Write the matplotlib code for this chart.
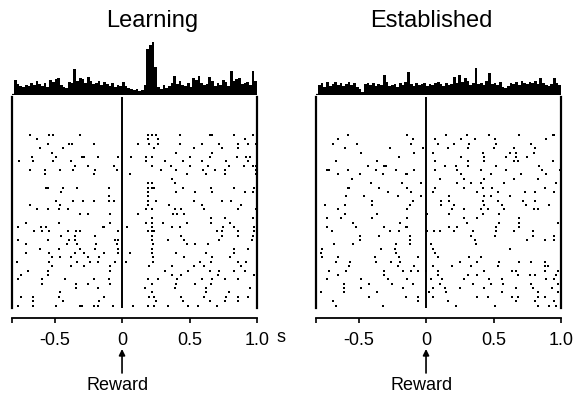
import numpy as np
import matplotlib
matplotlib.use("Agg")
import matplotlib.pyplot as plt

plt.rcParams["font.family"] = ["Liberation Sans", "DejaVu Sans"]

# ---------------------------------------------------------------- data
titles = ["Learning", "Established"]
bin_width = 0.02
t_start, t_end = -0.8, 1.0
tick_values = [-0.5, 0.0, 0.5, 1.0]
tick_labels = ["-0.5", "0", "0.5", "1.0"]
event_label = "Reward"

# peri-event histograms (spike counts per 20 ms bin)
learning_psth = [
    15, 11, 9, 8, 10, 9, 12, 10, 14, 11,
    9, 12, 8, 15, 13, 16, 17, 10, 8, 7,
    13, 12, 26, 14, 17, 16, 12, 18, 14, 11,
    12, 14, 10, 13, 11, 9, 12, 8, 10, 9,
    13, 9, 7, 6, 5, 6, 4, 5, 10, 46,
    50, 53, 28, 8, 6, 10, 7, 9, 12, 19,
    11, 14, 10, 9, 12, 8, 17, 15, 19, 12,
    10, 11, 18, 14, 9, 12, 10, 15, 13, 9,
    24, 14, 16, 17, 11, 12, 13, 10, 24, 14,
]
established_psth = [
    10, 12, 8, 13, 9, 11, 13, 10, 12, 9,
    11, 13, 10, 12, 8, 6, 3, 11, 12, 10,
    12, 9, 11, 10, 20, 13, 9, 10, 11, 8,
    12, 10, 13, 23, 11, 9, 12, 10, 11, 12,
    9, 11, 10, 12, 13, 11, 9, 12, 10, 11,
    18, 12, 20, 13, 17, 14, 10, 12, 27, 11,
    12, 10, 14, 22, 11, 12, 10, 13, 8, 7,
    9, 12, 11, 13, 10, 14, 12, 11, 13, 12,
    14, 11, 17, 12, 10, 9, 11, 17, 12, 10,
]

# spike times (s, relative to reward) for each trial, first trial on top
learning_trials = [
    [-0.68, -0.54, -0.51, -0.31, 0.19, 0.22, 0.25, 0.43, 0.65, 0.67, 0.83, 0.97],
    [-0.63, 0.19, 0.27, 0.91],
    [-0.55, -0.39, -0.37, -0.21, 0.12, 0.20, 0.27, 0.43, 0.59, 0.72, 0.86, 0.93, 0.99],
    [-0.61, -0.44, 0.24, 0.53, 0.74, 0.86],
    [-0.52, 0.40, 0.67],
    [-0.67, -0.49, -0.30, -0.28, -0.18, -0.03, 0.07, 0.18, 0.22, 0.50, 0.65, 0.85, 0.92, 0.95],
    [-0.76, -0.66, -0.51, -0.38, 0.18, 0.32, 0.45, 0.59, 0.77, 0.93],
    [-0.35, -0.25, -0.06, 0.22, 0.36, 0.50, 0.64, 0.79, 0.90, 0.97, 0.99],
    [-0.68, -0.57, -0.46, -0.36, -0.20, -0.04, 0.29, 0.40, 0.60, 0.69, 0.76, 0.99],
    [-0.57, -0.21, 0.06, 0.48, 0.62, 0.76, 0.99],
    [0.37],
    [0.19, 0.22, 0.39],
    [-0.56, -0.55, -0.44, -0.33, -0.10, 0.19, 0.22, 0.24, 0.45, 0.66, 0.83, 0.98],
    [-0.45, 0.19, 0.40, 0.54, 0.67, 0.91, 0.97],
    [-0.10, 0.19],
    [-0.49, -0.36, -0.29, -0.21, -0.10, -0.06, 0.19, 0.25, 0.53, 0.74, 0.81],
    [-0.68, -0.46, 0.19, 0.35, 0.59, 0.88],
    [-0.63, -0.55, -0.47, -0.40, 0.18, 0.22, 0.39, 0.44, 0.61, 0.86, 0.99],
    [-0.31, -0.25, -0.09, 0.12, 0.38, 0.41, 0.46],
    [0.22, 0.66, 0.76, 0.97],
    [-0.71, -0.47, -0.09, 0.18, 0.22, 0.30, 0.48, 0.66, 0.80],
    [-0.77, -0.60, -0.56, -0.14, -0.13, 0.04, 0.22, 0.37, 0.43, 0.75, 0.83, 0.98],
    [-0.65, -0.59, -0.54, -0.40, -0.34, -0.31, -0.03, 0.19, 0.22, 0.24, 0.70, 0.74, 0.86, 0.98],
    [-0.45, -0.35, -0.20, 0.22, 0.44, 0.74, 0.86, 0.97],
    [-0.77, -0.55, -0.39, -0.35, -0.05, -0.03, 0.22, 0.34, 0.46, 0.72, 0.96],
    [-0.71, -0.41, -0.33, -0.19, -0.04, 0.23, 0.48, 0.54, 0.64],
    [-0.61, -0.47, -0.31, -0.20, -0.03, 0.22, 0.83, 0.93],
    [-0.71, -0.54, -0.35, -0.28, -0.13, -0.03, 0.06, 0.22, 0.40, 0.62, 0.83],
    [-0.52, -0.46, -0.38, -0.25, -0.17, 0.23, 0.46, 0.67, 0.80],
    [-0.78, -0.54, -0.33, -0.24, -0.18, -0.05, 0.03, 0.23, 0.58, 0.66, 0.86, 0.92],
    [-0.52, -0.38, -0.28, -0.09, 0.20, 0.37, 0.53, 0.61, 0.88],
    [-0.70, -0.55, -0.09, 0.32, 0.49, 0.65, 0.72, 0.83, 0.91],
    [-0.75, -0.55, 0.37, 0.44, 0.71, 0.98],
    [-0.77, -0.59, -0.42, -0.21, -0.10, 0.19, 0.27, 0.41, 0.59, 0.67, 0.76, 0.86],
    [-0.59, -0.34, -0.25, -0.09, 0.22, 0.40, 0.54, 0.66],
    [-0.34, -0.18, 0.17, 0.39, 0.62, 0.95],
    [-0.46, 0.22, 0.62, 0.79],
    [-0.75, -0.66, -0.47, -0.13, 0.20, 0.24, 0.44, 0.61, 0.77, 0.86, 0.93],
    [-0.66, -0.44, -0.17, 0.25, 0.45, 0.65, 0.76, 0.86],
    [-0.77, -0.66, -0.49, -0.31, -0.30, -0.21, -0.18, -0.07, 0.08, 0.19, 0.24, 0.34, 0.49, 0.56, 0.70],
]
established_trials = [
    [-0.58, -0.14, 0.15, 0.30, 0.47, 0.69, 0.94, 0.95],
    [-0.65, -0.10, 0.07, 0.26, 0.36, 0.51, 0.89],
    [-0.69, -0.51, -0.11, 0.09, 0.21, 0.32, 0.52, 0.78],
    [-0.60, -0.27, -0.02, 0.16, 0.31, 0.50, 0.65, 0.81],
    [-0.48, -0.09, 0.05, 0.42, 0.62, 0.67, 0.80],
    [-0.20, 0.26, 0.43, 0.59, 0.67, 0.75],
    [-0.67, -0.36, 0.07, 0.31, 0.43, 0.65, 0.68, 0.94],
    [-0.43, -0.31, -0.30, 0.14, 0.22, 0.31, 0.52, 0.84],
    [-0.73, -0.72, -0.58, -0.37, -0.22, -0.09, 0.07, 0.23, 0.41, 0.59, 0.86, 0.99],
    [-0.65, -0.49, -0.32, -0.15, -0.14, 0.26, 0.48, 0.70, 0.89],
    [-0.55, 0.10, 0.28, 0.43, 0.65, 0.83],
    [-0.41, -0.18, -0.04, 0.23, 0.33, 0.41, 0.58, 0.96],
    [-0.58, -0.57, -0.35, -0.14, 0.07, 0.28, 0.42, 0.49, 0.88],
    [-0.28, -0.11, 0.05, 0.38, 0.53, 0.73, 0.81, 0.95],
    [-0.59, -0.46, -0.21, -0.04, 0.17, 0.43, 0.48, 0.62],
    [-0.40, -0.10, 0.11, 0.17, 0.42, 0.53, 0.72, 0.81],
    [-0.75, -0.60, -0.40, -0.12, 0.11, 0.21, 0.43, 0.56, 0.74, 0.91],
    [-0.65, -0.14, 0.19, 0.28, 0.41, 0.46, 0.58, 0.80, 0.83],
    [-0.60, -0.36, 0.01, 0.17, 0.42, 0.54],
    [-0.73, -0.63, -0.40, -0.14, 0.28, 0.38, 0.69],
    [-0.54, -0.19, 0.30, 0.54, 0.69, 0.98],
    [-0.73, -0.52, -0.31, -0.15, -0.14, 0.17, 0.23, 0.52, 0.69],
    [-0.70, -0.27, -0.20, 0.01, 0.06, 0.10, 0.21, 0.35, 0.52, 0.65, 0.79],
    [-0.49, -0.35, -0.12, 0.33, 0.51, 0.79, 0.95],
    [-0.49, -0.12, 0.36, 0.75, 0.88, 0.95],
    [-0.68, -0.54, -0.22, -0.12, 0.04, 0.37],
    [-0.77, -0.33, -0.23, 0.05, 0.62],
    [-0.78, -0.22, 0.07],
    [-0.77, -0.65, -0.38, -0.20, -0.06, 0.09, 0.32, 0.41],
    [-0.67, -0.56, -0.37, -0.26, -0.19, 0.25, 0.38, 0.54, 0.69, 0.78, 0.88],
    [-0.57, -0.21, -0.09, 0.05, 0.19, 0.33, 0.53, 0.88, 0.90],
    [-0.72, -0.59, -0.31, -0.17, -0.11, -0.06, 0.00, 0.09, 0.43, 0.64, 0.67, 0.88, 0.98],
    [-0.65, -0.31, 0.09, 0.31, 0.38, 0.68, 0.77, 0.81, 0.96],
    [-0.73, -0.48, -0.28, -0.14, 0.04, 0.12, 0.28, 0.47, 0.56, 0.89, 0.95],
    [-0.61, -0.42, -0.25, -0.10, 0.10, 0.35, 0.48, 0.57, 0.78, 0.98],
    [-0.61, -0.48, -0.17, 0.05, 0.14, 0.25, 0.43, 0.67, 0.79, 0.93],
    [-0.78, -0.61, -0.36, 0.02, 0.15, 0.56, 0.83, 0.98],
    [-0.42, -0.15, -0.06, 0.05, 0.38, 0.46, 0.64, 0.68, 0.83, 0.88],
    [-0.69, -0.06, 0.16, 0.67, 0.81, 0.95],
    [-0.67, -0.32, 0.22, 0.51, 0.83, 0.91, 0.96],
]

# ---------------------------------------------------------------- layout
W, H = 575, 395
fig = plt.figure(figsize=(W / 100, H / 100), dpi=100)


def box(left, top, right, bottom):
    """Axes rectangle given in pixels measured from the top-left corner."""
    return [left / W, 1 - bottom / H, (right - left) / W, (bottom - top) / H]


x_lo = -0.815
px_per_s = 135
panels = [
    dict(title=titles[0], psth=learning_psth, trials=learning_trials,
         left=12, title_x=152, unit="s"),
    dict(title=titles[1], psth=established_psth, trials=established_trials,
         left=316, title_x=431, unit=None),
]

edges = np.linspace(t_start, t_end, len(learning_psth) + 1)

for p in panels:
    left = p["left"]
    right = left + (t_end - x_lo) * px_per_s

    # histogram above the raster
    ah = fig.add_axes(box(left, 40, right, 95))
    ah.stairs(p["psth"], edges, fill=True, color="k", linewidth=0)
    ah.plot([x_lo, t_end], [0, 0], color="k", lw=1.6, solid_capstyle="butt")
    ah.set_xlim(x_lo, t_end)
    ah.set_ylim(0, 55)
    ah.axis("off")

    # raster
    ar = fig.add_axes(box(left, 97, right, 308))
    trials = p["trials"]
    xs = np.concatenate([np.asarray(s, float) for s in trials])
    ys = np.concatenate([np.full(len(s), k) for k, s in enumerate(trials)])
    ar.scatter(xs, ys, marker="s", s=2.8, color="k", linewidths=0)
    ar.axvline(0, color="k", lw=1.4)
    ar.set_xlim(x_lo, t_end)
    ar.set_ylim(len(trials) - 0.45, -8.7)

    ar.spines["top"].set_visible(False)
    for side in ("left", "right"):
        ar.spines[side].set_linewidth(1.6)
    ar.spines["bottom"].set_position(("outward", 7.5))
    ar.spines["bottom"].set_linewidth(1.3)
    ar.spines["bottom"].set_bounds(x_lo, t_end)
    ar.set_yticks([])
    ar.set_xticks(tick_values, tick_labels)
    ar.set_xticks([x_lo], minor=True)
    ar.tick_params(axis="x", which="both", direction="out", length=3.5,
                   width=1.2, pad=6, labelsize=13)

    # title
    fig.text(p["title_x"] / W, 1 - 27 / H, p["title"], ha="center",
             va="baseline", fontsize=17)

    # time unit after the last tick label
    if p["unit"]:
        fig.text((right + 19) / W, 1 - 342 / H,
                 p["unit"], ha="left", va="baseline", fontsize=13)

    # event marker: upward arrow at time zero with its label underneath
    ar.annotate("", xy=(0, H - 349), xycoords=("data", "figure pixels"),
                xytext=(0, H - 373), textcoords=("data", "figure pixels"),
                annotation_clip=False,
                arrowprops=dict(arrowstyle="-|>", color="k", lw=1.2,
                                mutation_scale=9, shrinkA=0, shrinkB=0))
    ar.annotate(event_label, xy=(-0.03, H - 390),
                xycoords=("data", "figure pixels"),
                ha="center", va="baseline", fontsize=13, annotation_clip=False)

fig.savefig("out.png", dpi=100, facecolor="white")
